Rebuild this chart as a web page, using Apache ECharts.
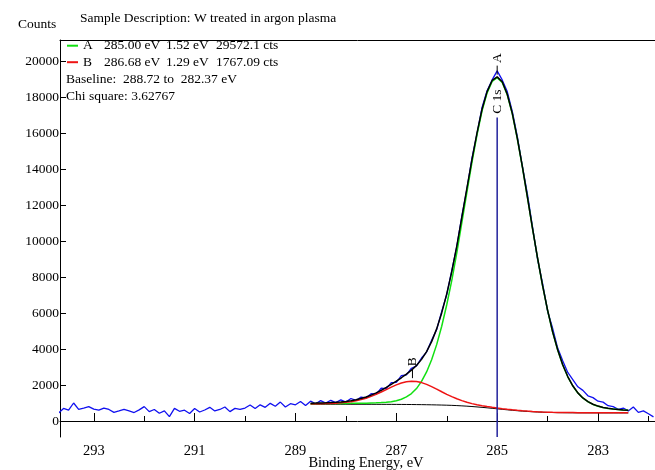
<!DOCTYPE html>
<html>
<head>
<meta charset="utf-8">
<script src="https://cdn.jsdelivr.net/npm/echarts@6/dist/echarts.min.js"></script>
<style>
  html, body { margin: 0; padding: 0; background: #fff; }
  #chart { width: 655px; height: 470px; }
</style>
</head>
<body>
<div id="chart"></div>
<script>
// ---- C 1s spectrum: raw counts, 0.1 eV channels from 293.7 eV downwards ----
const rawStart = 293.7;
const rawStep = 0.1;
const rawCounts = [
  440, 700, 600, 1000, 650, 720, 800, 660, 600, 720,
  640, 480, 560, 650, 560, 470, 620, 800, 520, 640,
  430, 560, 240, 700, 540, 600, 420, 690, 500, 610,
  760, 560, 640, 780, 520, 700, 650, 720, 890, 690,
  900, 760, 980, 820, 1050, 780, 960, 900, 1080, 860,
  1100, 960, 1130, 990, 1150, 1020, 1170, 1050, 1250, 1140,
  1330, 1280, 1520, 1490, 1820, 1800, 2130, 2150, 2520, 2560,
  2930, 3060, 3500, 3830, 4480, 5080, 6090, 7020, 8370, 9700,
  11400, 12880, 14600, 15950, 17420, 18350, 18950, 19450, 18950, 18300,
  17200, 15800, 14150, 12600, 10800, 9000, 7650, 6100, 5150, 4050,
  3350, 2700, 2300, 1900, 1700, 1400, 1300, 1100, 1050, 850,
  800, 650, 720, 560, 780, 480, 560, 400, 230
];

// ---- Fit over the baseline window, 0.1 eV steps from 288.7 eV downwards ----
const fitStart = 288.7;
const fitStep = 0.1;
const baselineCounts = [
  930, 930, 930, 930, 930, 930, 930, 930, 929, 929,
  929, 928, 928, 927, 926, 925, 924, 922, 920, 918,
  915, 912, 908, 904, 899, 893, 886, 878, 868, 856,
  841, 824, 804, 782, 758, 732, 705, 677, 649, 621,
  595, 571, 549, 530, 513, 499, 487, 477, 470, 464,
  460, 457, 455, 453, 452, 451, 451, 450, 450, 450,
  450, 450, 450, 450
];
// component A, counts above the baseline
const peakACounts = [
  34, 36, 38, 40, 42, 44, 46, 49, 52, 55,
  59, 64, 72, 82, 96, 118, 150, 205, 290, 420,
  610, 890, 1290, 1820, 2500, 3350, 4380, 5580, 6950, 8500,
  10190, 11890, 13560, 15110, 16470, 17500, 18160, 18400, 18160, 17500,
  16470, 15110, 13560, 11890, 10190, 8560, 7030, 5670, 4470, 3480,
  2650, 2000, 1490, 1100, 820, 620, 470, 370, 295, 247,
  210, 184, 156, 147
];
// component B, counts above the baseline
const peakBCounts = [
  25, 28, 33, 40, 49, 62, 81, 107, 144, 194,
  258, 339, 438, 555, 683, 820, 957, 1085, 1192, 1266,
  1299, 1285, 1226, 1132, 1010, 876, 738, 605, 483, 377,
  289, 217, 162, 120, 90, 69, 53, 43, 35, 30,
  26, 23, 21, 19, 18, 17, 16, 15, 14, 13,
  12, 11, 11, 10, 10, 9, 9, 8, 8, 7,
  7, 7, 6, 6
];

// ---- Peak table ----
const peakNames = ['A', 'B'];
const peakPositions = [285.00, 286.68];
const peakFwhm = ['1.52', '1.29'];
const peakAreas = ['29572.1', '1767.09'];
const peakColors = ['#12e012', '#ee1414'];
const baselineRange = ['288.72', '282.37'];
const chiSquare = '3.62767';

// ---- Axis ticks ----
const xMajorTicks = [283, 285, 287, 289, 291, 293];
const xMinorTicks = [282, 284, 286, 288, 290, 292];
const yTicks = [0, 2000, 4000, 6000, 8000, 10000, 12000, 14000, 16000, 18000, 20000];

const X_MIN = 281.87, X_MAX = 293.67;
const Y_MIN = -889, Y_MAX = 21167;
const SERIF = '"Liberation Serif", "Times New Roman", serif';

const rawEnergy = rawCounts.map((_, i) => +(rawStart - i * rawStep).toFixed(2));
const fitEnergy = baselineCounts.map((_, i) => +(fitStart - i * fitStep).toFixed(2));

const rawData = rawCounts.map((c, i) => [rawEnergy[i], c]);
const baseData = baselineCounts.map((c, i) => [fitEnergy[i], c]);
const compAData = peakACounts.map((c, i) => [fitEnergy[i], baselineCounts[i] + c]);
const compBData = peakBCounts.map((c, i) => [fitEnergy[i], baselineCounts[i] + c]);
const envData = baselineCounts.map((c, i) => [fitEnergy[i], c + peakACounts[i] + peakBCounts[i]]);

const chart = echarts.init(document.getElementById('chart'), null, { renderer: 'canvas' });

const gridRect = { left: 60, right: 0, top: 40, bottom: 33 };

function lineSeries(name, data, color, width) {
  return {
    name, type: 'line', data, xAxisIndex: 0, yAxisIndex: 0,
    symbol: 'none', smooth: false, silent: true,
    lineStyle: { color, width }, z: 2
  };
}

chart.setOption({
  animation: false,
  backgroundColor: '#ffffff',
  grid: [
    Object.assign({}, gridRect),
    Object.assign({}, gridRect)
  ],
  xAxis: [
    {
      gridIndex: 0, type: 'value', min: X_MIN, max: X_MAX, inverse: true, position: 'bottom',
      axisLine: { show: true, lineStyle: { color: '#000', width: 1 } },
      axisTick: { show: true, inside: true, length: 8, customValues: xMajorTicks, lineStyle: { color: '#000' } },
      axisLabel: { customValues: xMajorTicks, color: '#000', fontFamily: SERIF, fontSize: 14.5, margin: 7,
        formatter: v => String(v) },
      splitLine: { show: false }
    },
    {
      gridIndex: 0, type: 'value', min: X_MIN, max: X_MAX, inverse: true, position: 'top',
      axisLine: { show: true, lineStyle: { color: '#000', width: 1 } },
      axisTick: { show: false }, axisLabel: { show: false }, splitLine: { show: false }
    },
    {
      gridIndex: 1, type: 'value', min: X_MIN, max: X_MAX, inverse: true, position: 'bottom',
      axisLine: { show: false },
      axisTick: { show: true, inside: true, length: 5, customValues: xMinorTicks, lineStyle: { color: '#000' } },
      axisLabel: { show: false }, splitLine: { show: false }
    }
  ],
  yAxis: [
    {
      gridIndex: 0, type: 'value', min: Y_MIN, max: Y_MAX,
      axisLine: { show: true, lineStyle: { color: '#000', width: 1 } },
      axisTick: { show: true, inside: true, length: 6, customValues: yTicks, lineStyle: { color: '#000' } },
      axisLabel: { customValues: yTicks, color: '#000', fontFamily: SERIF, fontSize: 13.5, margin: 1,
        formatter: v => String(v) },
      splitLine: { show: false }
    },
    {
      gridIndex: 1, type: 'value', min: Y_MIN, max: Y_MAX, show: false
    }
  ],
  series: [
    lineSeries('raw', rawData, '#1010f0', 1.3),
    lineSeries('baseline', baseData, '#000000', 1),
    lineSeries('A', compAData, peakColors[0], 1.5),
    lineSeries('B', compBData, peakColors[1], 1.5),
    lineSeries('envelope', envData, '#000000', 1.5)
  ]
});

// ---- Text block, peak markers and axis titles ----
const toPx = (e, v) => chart.convertToPixel({ xAxisIndex: 0, yAxisIndex: 0 }, [e, v]);
const font13 = '13.5px ' + SERIF;
const font14 = '14.5px ' + SERIF;

function txt(x, y, text, font, opts) {
  return Object.assign({
    type: 'text', x, y, silent: true, z: 10,
    style: Object.assign({ text, font: font || font13, fill: '#000', align: 'left', verticalAlign: 'middle' }, (opts && opts.style) || {})
  }, (opts && opts.el) || {});
}

const graphics = [];
graphics.push(txt(18, 24, 'Counts'));
graphics.push(txt(80, 18, 'Sample Description: W treated in argon plasma'));
graphics.push(txt(366, 463, 'Binding Energy, eV', font14, { style: { align: 'center' } }));

const rowY = [45.7, 62.2];
peakNames.forEach((name, k) => {
  const y = rowY[k];
  graphics.push({ type: 'line', silent: true, z: 10,
    shape: { x1: 67, y1: y, x2: 78, y2: y },
    style: { stroke: peakColors[k], lineWidth: 2 } });
  graphics.push(txt(83, y, name));
  graphics.push(txt(104, y, peakPositions[k].toFixed(2) + ' eV'));
  graphics.push(txt(166, y, peakFwhm[k] + ' eV'));
  graphics.push(txt(216, y, peakAreas[k] + ' cts'));
});
graphics.push(txt(66, 79, 'Baseline:  ' + baselineRange[0] + ' to  ' + baselineRange[1] + ' eV'));
graphics.push(txt(66, 96, 'Chi square: ' + chiSquare));

// component peak tops, from the fitted curves
const compCurves = [compAData, compBData];
peakNames.forEach((name, k) => {
  const curve = compCurves[k];
  let best = 0;
  curve.forEach((p, i) => { if (Math.abs(p[0] - peakPositions[k]) < Math.abs(curve[best][0] - peakPositions[k])) best = i; });
  const [px, py] = toPx(peakPositions[k], curve[best][1]);
  graphics.push({ type: 'line', silent: true, z: 10,
    shape: { x1: px, y1: py - 3, x2: px, y2: py - 12 },
    style: { stroke: '#000', lineWidth: 1 } });
  graphics.push(txt(px, py - 19.5, name, font13, {
    style: { align: 'center' }, el: { rotation: Math.PI / 2 } }));
  if (k === 0) {
    // C 1s position marker
    const bottom = toPx(peakPositions[k], Y_MIN)[1];
    const top = py + 40;
    graphics.push({ type: 'line', silent: true, z: 9,
      shape: { x1: px, y1: bottom, x2: px, y2: top },
      style: { stroke: '#22229c', lineWidth: 1.5 } });
    graphics.push(txt(px, top - 16, 'C 1s', font13, {
      style: { align: 'center' }, el: { rotation: Math.PI / 2 } }));
  }
});

chart.setOption({ graphic: { elements: graphics } });
</script>
</body>
</html>
